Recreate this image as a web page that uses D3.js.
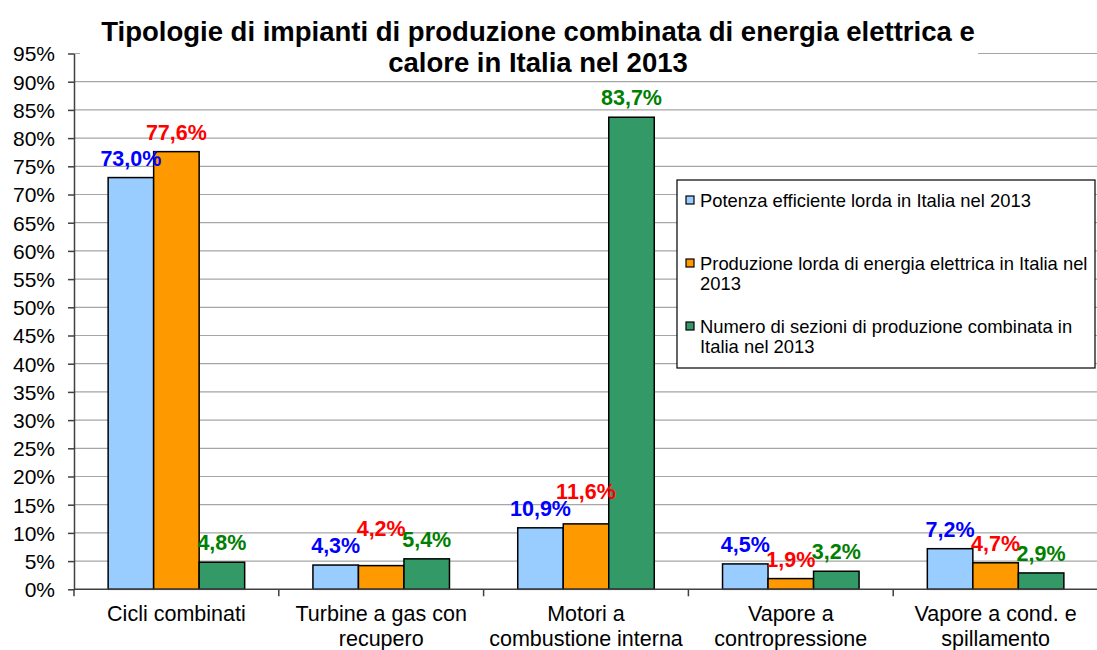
<!DOCTYPE html>
<html>
<head>
<meta charset="utf-8">
<script src="https://cdn.jsdelivr.net/npm/d3@7"></script>
<style>
  body { margin: 0; background: #fff; }
  svg { font-family: Arial, "Liberation Sans", sans-serif; }
</style>
</head>
<body>
<svg id="chart" width="1097" height="650"></svg>
<script>
// categories and series (percent)
var categories = [
  ["Cicli combinati"],
  ["Turbine a gas con", "recupero"],
  ["Motori a", "combustione interna"],
  ["Vapore a", "contropressione"],
  ["Vapore a cond. e", "spillamento"]
];
var seriesNames = [
  ["Potenza efficiente lorda in Italia nel 2013"],
  ["Produzione lorda di energia elettrica in Italia nel", "2013"],
  ["Numero di sezioni di produzione combinata in", "Italia nel 2013"]
];
var potenza    = [73.0, 4.3, 10.9, 4.5, 7.2];
var produzione = [77.6, 4.2, 11.6, 1.9, 4.7];
var sezioni    = [4.8, 5.4, 83.7, 3.2, 2.9];
var yTicks = d3.range(0, 96, 5);
var titleLines = [
  "Tipologie di impianti di produzione combinata di energia elettrica e",
  "calore in Italia nel 2013"
];

var fills = ["#99ccff", "#ff9900", "#339966"];
var labelColors = ["#0000ff", "#ff0000", "#008000"];
var seriesData = [potenza, produzione, sezioni];

var svg = d3.select("#chart");
var plotLeft = 74, plotRight = 1098, plotTop = 53.5, plotBottom = 589.3;

var x = d3.scaleBand()
  .domain(d3.range(categories.length))
  .range([plotLeft, plotRight])
  .padding(0);

// excel gap width 150%: 3 bars + 1.5 bar gap per category
var barW = x.bandwidth() / 4.5;
var xs = d3.scaleBand().domain(d3.range(3)).range([barW * 0.75, barW * 3.75]).padding(0);

var y = d3.scaleLinear().domain([0, 95]).range([plotBottom, plotTop]);

// gridlines
svg.append("g")
  .selectAll("line")
  .data(yTicks.filter(function(d) { return d > 0; }))
  .enter().append("line")
  .attr("x1", plotLeft).attr("x2", 1097)
  .attr("y1", function(d) { return y(d); })
  .attr("y2", function(d) { return y(d); })
  .attr("stroke", "#a6a6a6")
  .attr("stroke-width", 1.2);

// title box hides top gridline
svg.append("rect")
  .attr("x", 80).attr("y", 6).attr("width", 898).attr("height", 70)
  .attr("fill", "#fff");

svg.append("g")
  .selectAll("text")
  .data(titleLines)
  .enter().append("text")
  .attr("x", 538)
  .attr("y", function(d, i) { return 41 + i * 31; })
  .attr("text-anchor", "middle")
  .style("font-weight", "bold")
  .style("font-size", "27.5px")
  .attr("fill", "#000")
  .text(function(d) { return d; });

// label baseline: 12px above the bar; the orange label is lifted
// over the blue one when the two would sit on the same line
var labelY = function(s, i) {
  var b = y(seriesData[s][i]) - 12;
  if (s === 1) {
    var prev = y(seriesData[0][i]) - 12;
    if (Math.abs(b - prev) < 10) b = prev - 17;
  }
  return b;
};

// bars
seriesData.forEach(function(vals, s) {
  var g = svg.append("g");
  g.selectAll("rect")
    .data(vals)
    .enter().append("rect")
    .attr("x", function(d, i) { return x(i) + xs(s); })
    .attr("y", function(d) { return y(d); })
    .attr("width", xs.bandwidth())
    .attr("height", function(d) { return y(0) - y(d); })
    .attr("fill", fills[s])
    .attr("stroke", "#000")
    .attr("stroke-width", 1.5);
});

seriesData.forEach(function(vals, s) {
  svg.append("g")
    .selectAll("text")
    .data(vals)
    .enter().append("text")
    .attr("x", function(d, i) { return x(i) + xs(s) + xs.bandwidth() / 2; })
    .attr("y", function(d, i) { return labelY(s, i); })
    .attr("text-anchor", "middle")
    .style("font-weight", "bold")
    .style("font-size", "21.5px")
    .attr("fill", labelColors[s])
    .text(function(d) { return d.toFixed(1).replace(".", ",") + "%"; });
});

// y axis
var yAxis = svg.append("g")
  .attr("transform", "translate(" + plotLeft + ",0)")
  .call(d3.axisLeft(y).tickValues(yTicks).tickSize(6).tickSizeOuter(0)
    .tickFormat(function(d) { return d + "%"; }));
yAxis.select(".domain").attr("stroke", "#404040").attr("stroke-width", 1.5);
yAxis.selectAll(".tick line").attr("stroke", "#404040").attr("stroke-width", 1.5);
yAxis.selectAll(".tick text")
  .attr("x", -19)
  .attr("dy", "0.35em")
  .style("font-size", "21px")
  .style("font-family", "Arial, 'Liberation Sans', sans-serif")
  .attr("fill", "#000");

// x axis
var xAxis = svg.append("g")
  .attr("transform", "translate(0," + plotBottom + ")");
xAxis.append("line")
  .attr("x1", plotLeft).attr("x2", 1097)
  .attr("stroke", "#404040").attr("stroke-width", 1.5);
xAxis.selectAll("line.tk")
  .data(d3.range(categories.length + 1))
  .enter().append("line")
  .attr("class", "tk")
  .attr("x1", function(d) { return plotLeft + d * x.step(); })
  .attr("x2", function(d) { return plotLeft + d * x.step(); })
  .attr("y1", 0).attr("y2", 7)
  .attr("stroke", "#404040").attr("stroke-width", 1.5);

var cat = xAxis.selectAll("text.cat")
  .data(categories)
  .enter().append("text")
  .attr("class", "cat")
  .attr("text-anchor", "middle")
  .style("font-size", "21.5px")
  .attr("fill", "#000");
cat.selectAll("tspan")
  .data(function(d, i) { return d.map(function(t) { return { t: t, i: i }; }); })
  .enter().append("tspan")
  .attr("x", function(d) { return x(d.i) + x.bandwidth() / 2; })
  .attr("y", function(d, j) { return 32 + j * 24.5; })
  .text(function(d) { return d.t; });

// legend
var lg = svg.append("g").attr("transform", "translate(677,180)");
lg.append("rect")
  .attr("width", 418).attr("height", 188)
  .attr("fill", "#fff").attr("stroke", "#000").attr("stroke-width", 1.2);
var rowY = [27, 90, 153];
var item = lg.selectAll("g.item")
  .data(seriesNames)
  .enter().append("g")
  .attr("class", "item")
  .attr("transform", function(d, i) { return "translate(0," + rowY[i] + ")"; });
item.append("rect")
  .attr("x", 9).attr("y", -11)
  .attr("width", 8).attr("height", 8)
  .attr("fill", function(d, i) { return fills[i]; })
  .attr("stroke", "#000").attr("stroke-width", 1.2);
item.append("text")
  .style("font-size", "18.4px")
  .attr("fill", "#000")
  .selectAll("tspan")
  .data(function(d) { return d; })
  .enter().append("tspan")
  .attr("x", 23)
  .attr("y", function(d, j) { return j * 20; })
  .text(function(d) { return d; });
</script>
</body>
</html>
